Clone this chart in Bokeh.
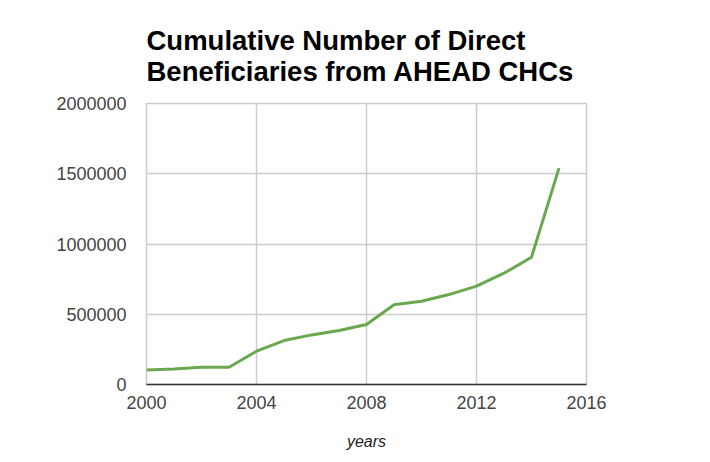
from bokeh.plotting import figure
from bokeh.models import FixedTicker, BasicTickFormatter, Range1d
from bokeh.embed import file_html
from bokeh.resources import INLINE

years = [2000, 2001, 2002, 2003, 2004, 2005, 2006, 2007, 2008, 2009, 2010, 2011, 2012, 2013, 2014, 2015]
beneficiaries = [104000, 110000, 123000, 123000, 237000, 313000, 353000, 384000, 427000, 567000,
                 593000, 640000, 700000, 792000, 906000, 1540000]
x_ticks = [2000, 2004, 2008, 2012, 2016]
y_ticks = [0, 500000, 1000000, 1500000, 2000000]
title_text = "Cumulative Number of Direct\nBeneficiaries from AHEAD CHCs"
x_label = "years"

p = figure(frame_width=440, frame_height=281, output_backend="svg", toolbar_location=None,
           x_range=Range1d(2000, 2016), y_range=Range1d(0, 2000000),
           min_border_left=146, min_border_right=116, min_border_top=103, min_border_bottom=70,
           title=title_text)
p.title.text_font = "Liberation Sans"
p.title.text_font_size = "27.5px"
p.title.text_font_style = "bold"
p.title.text_color = "#000000"
p.title.align = "left"
p.title.offset = 0
p.title.standoff = 33

p.line(years, beneficiaries, line_color="#6aa84f", line_width=3)

p.xaxis.ticker = FixedTicker(ticks=x_ticks)
p.yaxis.ticker = FixedTicker(ticks=y_ticks)
p.yaxis.formatter = BasicTickFormatter(use_scientific=False)

for ax in (p.xaxis[0], p.yaxis[0]):
    ax.major_tick_line_color = None
    ax.minor_tick_line_color = None
    ax.major_label_text_font = "Liberation Sans"
    ax.major_label_text_font_size = "18px"
    ax.major_label_text_color = "#444444"

p.yaxis.axis_line_color = None
p.yaxis.major_label_standoff = 14
p.xaxis.axis_line_color = "#333333"
p.xaxis.axis_line_width = 1.5
p.xaxis.major_label_standoff = 5
p.xaxis.axis_label = x_label
p.xaxis.axis_label_text_font = "Liberation Sans"
p.xaxis.axis_label_text_font_size = "16px"
p.xaxis.axis_label_text_font_style = "italic"
p.xaxis.axis_label_text_color = "#222222"
p.xaxis.axis_label_standoff = 21

p.xgrid.grid_line_color = "#cccccc"
p.ygrid.grid_line_color = "#cccccc"
p.xgrid.grid_line_width = 1.5
p.ygrid.grid_line_width = 1.5
p.outline_line_color = "#cccccc"
p.outline_line_width = 1.5

open("out.html", "w").write(file_html(p, INLINE))
